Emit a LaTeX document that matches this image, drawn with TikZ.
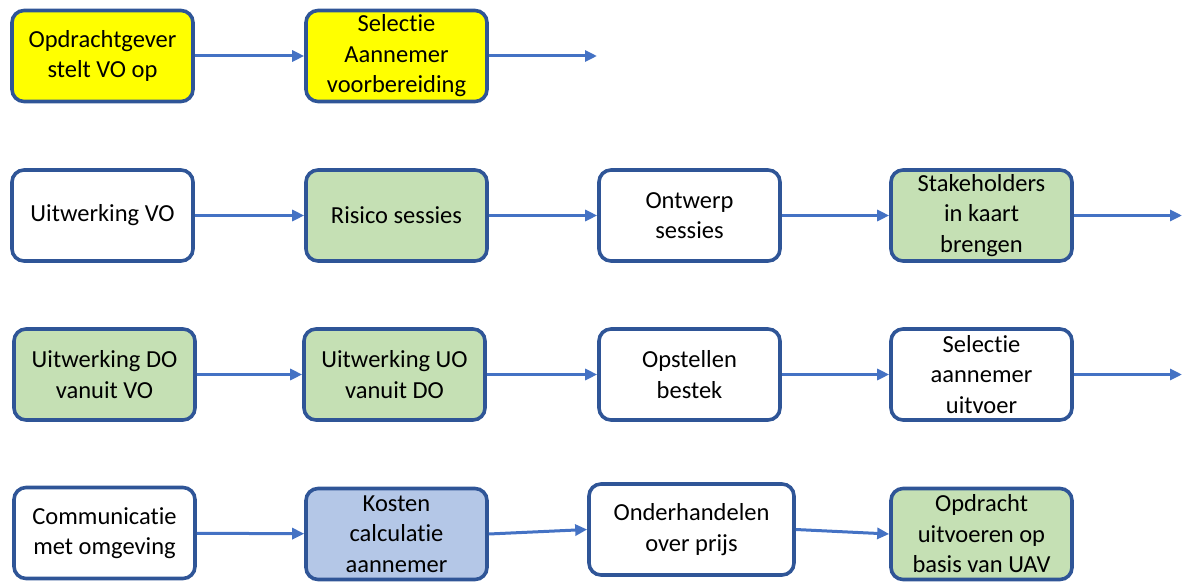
\documentclass[tikz,border=0pt]{standalone}
\usepackage{fontspec}
\setmainfont{Carlito}[Ligatures=NoCommon]
\usetikzlibrary{arrows.meta}
\definecolor{edgeblue}{HTML}{2F5597}
\definecolor{flowblue}{HTML}{4472C4}
\definecolor{stepyellow}{HTML}{FFFF00}
\definecolor{stepgreen}{HTML}{C5E0B4}
\definecolor{stepblue}{HTML}{B4C7E7}
\tikzset{
  stepbox/.style={draw=edgeblue, line width=3.6pt, rounded corners=12pt, fill=white,
    minimum width=181pt, minimum height=91pt, inner sep=0pt, align=center,
    font=\fontsize{24.5}{30.5}\selectfont},
  flow/.style={draw=flowblue, line width=3pt, -{Triangle[length=12pt,width=11pt]}}
}
\begin{document}
\begin{tikzpicture}[x=1pt,y=-1pt]
\useasboundingbox (0,0) rectangle (1183,583);
% row 1
\node[stepbox, fill=stepyellow] (a1) at (102.5,56) {Opdrachtgever\\stelt VO op};
\node[stepbox, fill=stepyellow] (a2) at (396.5,56) {Selectie\\Aannemer\\voorbereiding};
\coordinate (a3) at (597,56);
% row 2
\node[stepbox] (b1) at (102.5,215.5) {Uitwerking VO};
\node[stepbox, fill=stepgreen] (b2) at (396.5,215.5) {Risico sessies};
\node[stepbox] (b3) at (689.5,215.5) {Ontwerp\\sessies};
\node[stepbox, fill=stepgreen] (b4) at (981.5,215.5) {Stakeholders\\in kaart\\brengen};
\coordinate (b5) at (1182,215.5);
% row 3
\node[stepbox, fill=stepgreen] (c1) at (104.5,374.5) {Uitwerking DO\\vanuit VO};
\node[stepbox, fill=stepgreen] (c2) at (394.5,374.5) {Uitwerking UO\\vanuit DO};
\node[stepbox] (c3) at (689.5,374.5) {Opstellen\\bestek};
\node[stepbox] (c4) at (981.5,374.5) {Selectie\\aannemer\\uitvoer};
\coordinate (c5) at (1182,374.5);
% row 4
\node[stepbox] (d1) at (104.5,533) {Communicatie\\met omgeving};
\node[stepbox, fill=stepblue] (d2) at (396.5,534) {Kosten\\calculatie\\aannemer};
\node[stepbox, minimum width=205pt] (d3) at (691.5,529.5) {Onderhandelen\\over prijs};
\node[stepbox, fill=stepgreen] (d4) at (981.5,534) {Opdracht\\uitvoeren op\\basis van UAV};
% connectors
\draw[flow] (a1) -- (a2);
\draw[flow] (a2) -- (a3);
\draw[flow] (b1) -- (b2);
\draw[flow] (b2) -- (b3);
\draw[flow] (b3) -- (b4);
\draw[flow] (b4) -- (b5);
\draw[flow] (c1) -- (c2);
\draw[flow] (c2) -- (c3);
\draw[flow] (c3) -- (c4);
\draw[flow] (c4) -- (c5);
\draw[flow] (d1) -- (d2);
\draw[flow] (d2.east) -- (d3.west);
\draw[flow] (d3.east) -- (d4.west);
\end{tikzpicture}
\end{document}
